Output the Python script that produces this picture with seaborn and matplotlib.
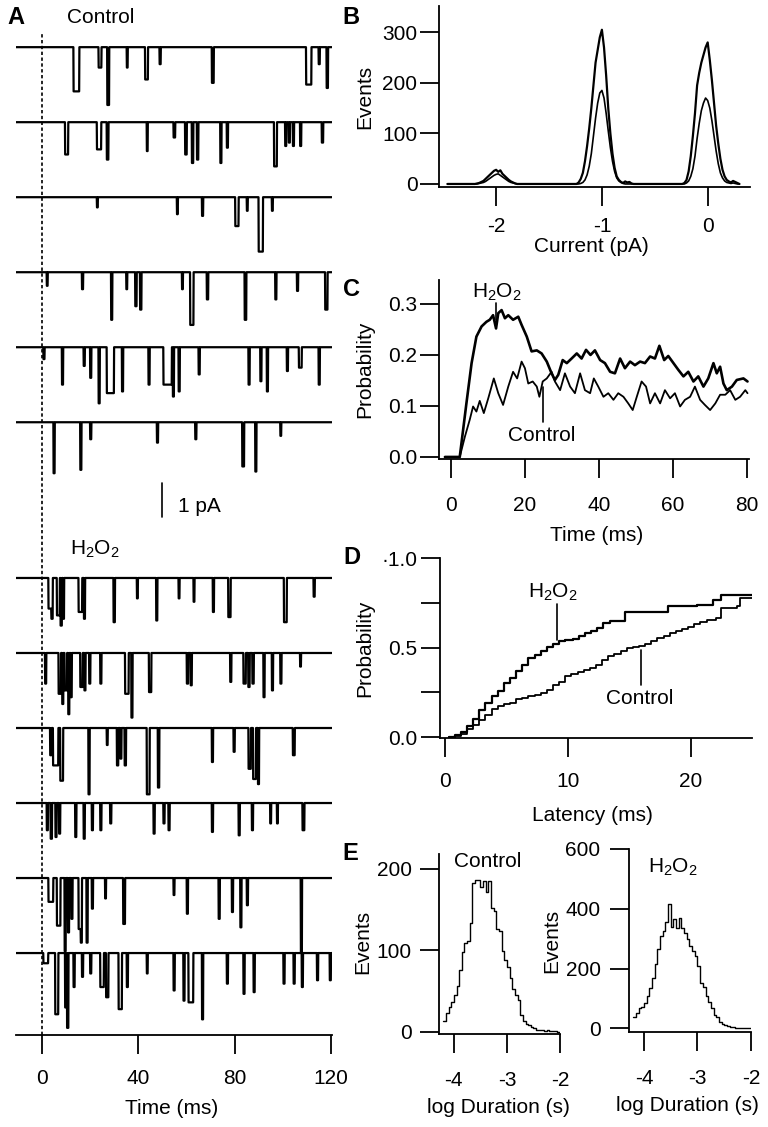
import numpy as np
import pandas as pd
import matplotlib
matplotlib.use("Agg")
import matplotlib.pyplot as plt
import seaborn as sns

sns.set_style("ticks")
plt.rcParams['font.family'] = ['Liberation Sans', 'DejaVu Sans']
plt.rcParams['mathtext.default'] = 'regular'
plt.rcParams['font.size'] = 15
plt.rcParams['axes.unicode_minus'] = False
for key in ['text.color', 'axes.labelcolor', 'xtick.color', 'ytick.color', 'axes.edgecolor']:
    plt.rcParams[key] = 'black'
H2O2 = 'H$_2$O$_2$'

# ---- panel A: single-channel sweeps, events as (start ms, width ms, depth pA)
ctrl_1 = [(13.0, 2.4, 1.3), (23.4, 1.2, 0.6), (27.0, 0.8, 1.7), (35.1, 0.4, 0.6), (42.7, 1.2, 0.95),
          (48.7, 0.5, 0.5), (70.4, 0.8, 1.05), (109.5, 2.2, 1.1), (114.7, 0.5, 0.5), (118.0, 0.6, 1.2)]
ctrl_2 = [(9.5, 1.3, 0.95), (22.7, 1.8, 0.8), (26.8, 0.7, 1.1), (43.4, 0.4, 0.85), (54.5, 0.7, 0.45),
          (59.3, 0.7, 0.95), (62.1, 0.6, 1.2), (64.2, 0.6, 1.1), (73.9, 0.5, 1.2), (76.6, 0.5, 0.75),
          (96.2, 1.2, 1.3), (100.8, 0.5, 0.7), (102.3, 0.5, 0.6), (104.0, 0.5, 0.7), (107.0, 0.5, 0.7),
          (116.0, 0.6, 0.6)]
ctrl_3 = [(22.7, 0.4, 0.3), (55.9, 0.4, 0.5), (66.3, 0.5, 0.55), (80.1, 1.4, 0.85), (84.9, 0.4, 0.4),
          (89.8, 1.8, 1.6), (95.3, 0.4, 0.4)]
ctrl_4 = [(1.9, 0.4, 0.4), (16.5, 0.5, 0.5), (28.6, 0.5, 1.4), (34.9, 0.4, 0.5), (38.6, 0.6, 1.0),
          (40.6, 0.6, 1.1), (58.0, 0.4, 0.5), (61.4, 1.4, 1.55), (68.3, 0.6, 0.8), (84.0, 0.7, 1.4),
          (96.7, 0.5, 0.8), (105.7, 0.5, 0.55), (117.4, 1.0, 1.1)]
ctrl_5 = [(0.5, 0.5, 0.35), (8.2, 0.5, 1.1), (17.2, 0.5, 0.55), (19.9, 0.5, 0.9), (23.4, 0.5, 1.65),
          (26.8, 3.0, 1.35), (33.1, 0.5, 1.3), (44.1, 0.5, 1.1), (50.3, 3.5, 1.1), (54.2, 0.5, 1.45),
          (56.6, 0.5, 1.3), (64.9, 0.5, 0.8), (85.6, 0.5, 1.1), (90.5, 0.5, 1.0), (93.2, 0.5, 1.3),
          (101.5, 0.5, 0.7), (106.5, 1.2, 0.6), (114.7, 0.5, 1.1)]
ctrl_6 = [(4.7, 0.5, 1.5), (15.8, 0.5, 1.4), (19.9, 0.5, 0.5), (47.6, 0.5, 0.6), (63.5, 0.5, 0.5),
          (83.0, 0.8, 1.3), (88.4, 0.5, 1.45), (98.8, 0.4, 0.4)]

h2o2_1 = [(2.6, 1.2, 0.9), (3.8, 0.6, 1.2), (6.1, 1.2, 1.1), (7.6, 0.6, 1.4), (8.6, 0.5, 1.2),
          (15.1, 1.5, 1.0), (17.3, 0.5, 1.2), (29.6, 0.6, 1.3), (39.3, 0.4, 0.6), (47.3, 0.5, 1.25),
          (56.6, 0.4, 0.6), (62.8, 0.4, 0.7), (70.8, 0.5, 1.0), (77.2, 1.0, 1.15), (100.3, 1.2, 1.3),
          (112.6, 0.5, 0.55)]
h2o2_2 = [(1.2, 0.5, 0.9), (6.8, 1.0, 1.2), (8.3, 0.5, 1.5), (9.3, 1.0, 1.1), (10.8, 0.5, 1.8),
          (11.8, 0.5, 1.3), (15.8, 1.0, 1.0), (17.5, 0.5, 1.1), (19.5, 0.5, 0.9), (24.1, 0.5, 0.9),
          (34.4, 1.5, 1.2), (37.0, 0.5, 1.9), (44.3, 1.0, 1.15), (60.0, 0.6, 0.9), (61.6, 0.5, 0.95),
          (78.0, 0.5, 0.85), (83.5, 1.0, 0.9), (85.5, 0.6, 1.0), (87.2, 0.6, 0.9), (91.8, 0.5, 1.3),
          (95.3, 0.5, 1.1), (98.8, 0.5, 0.9), (107.0, 0.4, 0.4)]
h2o2_3 = [(3.3, 0.6, 0.8), (4.5, 2.2, 1.1), (7.5, 1.2, 1.55), (19.2, 0.5, 1.95), (26.8, 0.4, 0.5),
          (31.0, 0.6, 1.1), (32.4, 0.5, 0.9), (34.2, 0.6, 1.1), (43.4, 1.2, 1.95), (48.0, 0.6, 1.75),
          (70.4, 0.5, 1.0), (79.4, 0.5, 0.7), (85.6, 1.0, 1.2), (87.5, 1.2, 1.5), (89.5, 0.5, 1.65),
          (104.0, 0.8, 0.8)]
h2o2_4 = [(1.9, 0.5, 0.8), (3.5, 0.6, 1.05), (5.5, 0.5, 1.0), (7.0, 0.5, 0.9), (13.7, 0.5, 1.0),
          (17.2, 0.5, 1.05), (20.6, 0.5, 0.8), (24.1, 0.5, 0.8), (28.2, 0.5, 0.6), (46.2, 0.5, 0.9),
          (50.3, 0.5, 0.6), (52.4, 0.5, 0.8), (70.4, 0.5, 0.85), (81.5, 0.5, 0.95), (87.0, 0.5, 0.8),
          (94.6, 0.4, 0.6), (97.4, 0.4, 0.6), (108.0, 0.8, 0.8)]
h2o2_5 = [(2.6, 2.0, 0.7), (6.1, 1.5, 1.4), (9.3, 0.5, 2.15), (10.7, 0.5, 1.6), (12.1, 0.5, 1.2),
          (15.1, 1.2, 1.5), (16.0, 0.5, 1.9), (18.4, 0.5, 1.9), (20.6, 0.5, 0.9), (26.1, 0.4, 0.6),
          (33.6, 0.8, 1.35), (54.5, 0.4, 0.5), (60.0, 0.5, 1.05), (73.2, 0.5, 1.2), (78.7, 0.5, 1.0),
          (82.2, 0.5, 1.45), (84.9, 0.5, 0.8), (107.3, 0.5, 2.2)]
h2o2_6 = [(0.5, 2.0, 0.3), (5.4, 1.3, 1.8), (9.5, 0.6, 1.6), (10.3, 0.6, 2.2), (13.0, 0.5, 1.0),
          (16.5, 0.5, 0.7), (19.9, 0.5, 0.6), (24.1, 1.5, 1.0), (26.5, 1.0, 1.3), (31.7, 1.4, 1.65),
          (35.1, 0.5, 1.0), (43.4, 0.4, 0.6), (54.5, 0.5, 1.1), (58.6, 0.5, 1.4), (60.7, 2.0, 1.45),
          (66.3, 0.5, 1.95), (76.6, 0.5, 0.9), (83.5, 0.5, 1.2), (87.7, 0.5, 1.15), (100.1, 0.5, 0.9),
          (104.3, 0.5, 0.9), (107.7, 0.5, 1.0), (114.0, 0.5, 0.8), (119.3, 0.5, 0.8)]

# ---- panel B: amplitude histograms (pA, events), three peak regions
b_x_m2 = np.round(np.arange(-2.20, -1.79, 0.02), 2)
b_x_m1 = np.round(np.arange(-1.24, -0.69, 0.02), 2)
b_x_0 = np.round(np.arange(-0.24, 0.31, 0.02), 2)
b_tall_m2 = [0, 1, 2, 4, 6, 10, 14, 18, 22, 26, 28, 24, 27, 20, 16, 12, 8, 5, 3, 1, 0]
b_small_m2 = [0, 0, 1, 2, 3, 5, 8, 11, 14, 17, 19, 20, 17, 14, 11, 8, 5, 3, 2, 1, 0]
b_tall_m1 = [0, 3, 10, 22, 45, 75, 110, 150, 195, 240, 265, 290, 305, 270, 215, 150, 100, 60, 32, 15,
             8, 4, 2, 5, 3, 4, 1, 0]
b_small_m1 = [0, 0, 1, 3, 8, 18, 35, 60, 95, 130, 160, 180, 185, 170, 140, 105, 72, 45, 25, 12,
              6, 3, 1, 0, 0, 0, 0, 0]
b_tall_0 = [0, 2, 8, 25, 55, 95, 140, 195, 220, 240, 255, 270, 280, 245, 205, 160, 115, 80, 50, 28,
            15, 8, 5, 3, 6, 4, 2, 0]
b_small_0 = [0, 0, 2, 6, 15, 30, 55, 90, 120, 145, 160, 170, 165, 150, 125, 95, 65, 40, 22, 12,
             6, 3, 2, 1, 2, 1, 0, 0]

# ---- panel C: open probability vs time
c_time_h2o2 = [-1.6, 2.4, 4.2, 5.6, 6.9, 8.3, 9.6, 10.5, 11.4, 12.2, 12.8, 13.7, 14.6, 15.5, 16.8, 18.2,
               19.1, 20.5, 21.8, 23.2, 24.5, 25.9, 27.2, 28.1, 29.0, 30.2, 31.3, 32.6, 34.0, 35.3, 36.5,
               37.7, 38.9, 40.3, 41.6, 43.0, 44.3, 45.7, 47.0, 48.4, 49.7, 51.1, 52.4, 53.8, 55.1, 56.3,
               57.6, 58.7, 60.1, 61.4, 62.8, 64.1, 65.5, 66.8, 68.2, 69.5, 70.9, 71.8, 72.7, 73.6, 74.5,
               75.9, 77.2, 79.0, 80.1]
c_prob_h2o2 = [0, 0, .105, .184, .236, .256, .265, .269, .278, .252, .282, .288, .272, .278, .269, .275,
               .259, .236, .207, .209, .203, .187, .164, .151, .161, .190, .184, .193, .203, .193, .210,
               .200, .209, .190, .184, .167, .164, .193, .174, .187, .180, .187, .184, .197, .193, .218,
               .190, .198, .184, .171, .158, .167, .148, .158, .138, .154, .184, .164, .177, .144, .131,
               .138, .151, .154, .148]
c_time_ctrl = [-1.6, 2.4, 3.8, 5.1, 6.0, 6.9, 7.8, 8.9, 10.1, 11.6, 12.8, 14.1, 15.5, 16.8, 17.9, 19.1,
               20.0, 20.9, 22.1, 23.2, 23.9, 24.8, 25.9, 27.2, 28.1, 29.5, 30.8, 32.2, 33.5, 34.9, 36.2,
               37.6, 38.6, 39.8, 41.2, 42.5, 43.9, 45.2, 46.6, 47.9, 49.1, 50.2, 51.5, 52.7, 53.8, 55.1,
               56.5, 57.8, 59.2, 60.5, 61.9, 63.2, 64.6, 65.9, 67.3, 68.6, 70.0, 71.4, 72.7, 74.1, 75.4,
               76.8, 78.1, 79.5, 80.1]
c_prob_ctrl = [0, 0, .040, .073, .099, .089, .110, .086, .115, .154, .125, .102, .138, .167, .154, .187,
               .174, .144, .148, .138, .118, .148, .154, .167, .148, .131, .164, .138, .125, .164, .131,
               .125, .154, .138, .118, .125, .112, .125, .118, .105, .092, .118, .148, .138, .105, .125,
               .105, .131, .115, .125, .099, .112, .118, .138, .112, .102, .092, .105, .122, .122, .131,
               .112, .118, .131, .125]

# ---- panel D: first-latency cumulative distributions
d_lat_h2o2 = [0.3, 0.8, 1.3, 1.8, 2.3, 2.8, 3.3, 3.8, 4.3, 4.8, 5.3, 5.8, 6.3, 6.8, 7.3, 7.8, 8.3, 8.8,
              9.3, 9.8, 10.4, 10.9, 11.4, 11.9, 12.4, 12.9, 13.4, 14.7, 18.2, 20.5, 21.8, 22.5, 25.0]
d_prob_h2o2 = [0, 0.01, 0.03, 0.06, 0.10, 0.15, 0.19, 0.23, 0.26, 0.30, 0.33, 0.37, 0.40, 0.44, 0.46,
               0.48, 0.505, 0.52, 0.535, 0.54, 0.55, 0.565, 0.58, 0.595, 0.61, 0.635, 0.65, 0.70, 0.73,
               0.74, 0.765, 0.795, 0.795]
d_lat_ctrl = [0.3, 0.8, 1.3, 1.8, 2.3, 2.8, 3.3, 3.8, 4.3, 4.8, 5.3, 5.8, 6.3, 6.8, 7.3, 7.8, 8.3, 8.8,
              9.3, 9.8, 10.3, 10.8, 11.3, 11.8, 12.3, 12.8, 13.3, 13.8, 14.3, 14.8, 15.3, 15.8, 16.3,
              16.8, 17.3, 17.8, 18.3, 18.8, 19.3, 19.8, 20.3, 20.8, 21.3, 22.1, 22.5, 23.8, 24.0, 25.0]
d_prob_ctrl = [0, .005, .02, .045, .07, .095, .125, .155, .175, .185, .19, .21, .22, .23, .235, .245,
               .265, .29, .31, .34, .355, .365, .375, .385, .40, .43, .455, .465, .48, .495, .505, .51,
               .52, .535, .555, .565, .58, .595, .605, .615, .63, .645, .655, .665, .72, .73, .775, .775]

# ---- panel E: dwell-time histograms, bins of 0.05 log units from -4.20
e_counts_ctrl = [14, 23, 31, 37, 45, 56, 76, 98, 109, 111, 134, 183, 186, 186, 178, 185, 172, 185, 152,
                 148, 126, 124, 99, 88, 80, 66, 53, 45, 39, 21, 14, 10, 8, 6, 5, 3, 2, 2, 1, 2, 1, 1, 1, 0]
e_counts_h2o2 = [39, 51, 67, 73, 84, 107, 135, 169, 214, 264, 309, 326, 356, 416, 340, 365, 337, 370,
                 335, 320, 298, 275, 259, 242, 208, 152, 140, 107, 90, 67, 45, 37, 22, 15, 11, 8, 5, 4,
                 3, 2, 2, 1, 1, 1]

W, H = 768, 1127
fig = plt.figure(figsize=(W / 100, H / 100), dpi=100)


def add_ax(x0, y0, x1, y1):
    return fig.add_axes([x0 / W, 1 - y1 / H, (x1 - x0) / W, (y1 - y0) / H])


def style(ax, xpad, ypad=2):
    sns.despine(ax=ax)
    for s in ax.spines.values():
        s.set_linewidth(1.3)
    ax.tick_params(direction='out', length=13.5, width=1.3, labelsize=15)
    ax.tick_params(axis='x', pad=xpad)
    ax.tick_params(axis='y', pad=ypad)


# ---------------- A
axA = add_ax(16, 5, 332, 1035)
t_grid = np.arange(-10.8, 120.3, 0.1)


def build_trace(events):
    y = np.zeros_like(t_grid)
    for start, width, depth in events:
        m = (t_grid >= start) & (t_grid <= start + width)
        y[m] = np.minimum(y[m], -depth)
    return y


for i, ev in enumerate([ctrl_1, ctrl_2, ctrl_3, ctrl_4, ctrl_5, ctrl_6]):
    sns.lineplot(x=t_grid, y=build_trace(ev) - 1.24 - 2.206 * i, ax=axA, color='k', lw=1.6,
                 estimator=None)
for i, ev in enumerate([h2o2_1, h2o2_2, h2o2_3, h2o2_4, h2o2_5, h2o2_6]):
    sns.lineplot(x=t_grid, y=build_trace(ev) - 16.85 - 2.206 * i, ax=axA, color='k', lw=1.6,
                 estimator=None)
axA.set_xlim(-10.8, 120.3)
axA.set_ylim(-30.29, 0)
axA.plot([0, 0], [-30.29, -0.82], color='k', lw=1.2, ls=(0, (2, 1.5)))
axA.plot([49.8, 49.8], [-14.06, -15.06], color='k', lw=1.2)
axA.text(56.4, -14.76, '1 pA', va='center', ha='left', fontsize=15)
axA.text(10.4, -0.38, 'Control', va='center', ha='left', fontsize=15)
axA.text(11.6, -16.0, H2O2, va='center', ha='left', fontsize=15)
style(axA, 11)
sns.despine(ax=axA, left=True)
axA.set_yticks([])
axA.set_xticks([0, 40, 80, 120])
axA.set_xlabel('Time (ms)', va='center')
axA.xaxis.set_label_coords(0.494, -0.0709)

# ---------------- B
axB = add_ax(439, 6, 750, 187)
bx = np.concatenate([[-2.46], b_x_m2, b_x_m1, b_x_0])
sns.lineplot(x=bx, y=np.concatenate([[0], b_small_m2, b_small_m1, b_small_0]), ax=axB,
             color='k', lw=1.2, estimator=None)
sns.lineplot(x=bx, y=np.concatenate([[0], b_tall_m2, b_tall_m1, b_tall_0]), ax=axB,
             color='k', lw=1.6, estimator=None)
axB.set_xlim(-2.54, 0.40)
axB.set_ylim(-6, 352)
axB.set_xticks([-2, -1, 0])
axB.set_yticks([0, 100, 200, 300])
style(axB, 8)
axB.set_xlabel('Current (pA)', va='center')
axB.set_ylabel('Events', va='center')
axB.xaxis.set_label_coords(0.489, -0.331)
axB.yaxis.set_label_coords(-0.238, 0.5)

# ---------------- C
axC = add_ax(439, 280, 749, 459)
sns.lineplot(x=c_time_ctrl, y=c_prob_ctrl, ax=axC, color='k', lw=1.3, estimator=None)
sns.lineplot(x=c_time_h2o2, y=c_prob_h2o2, ax=axC, color='k', lw=1.9, estimator=None)
axC.set_xlim(-3.2, 80.5)
axC.set_ylim(-0.004, 0.347)
axC.set_xticks([0, 20, 40, 60, 80])
axC.set_yticks([0, 0.1, 0.2, 0.3])
axC.set_yticklabels(['0.0', '0.1', '0.2', '0.3'])
axC.plot([12.3, 12.3], [0.301, 0.269], color='k', lw=1.2)
axC.text(12.4, 0.322, H2O2, ha='center', va='center', fontsize=15)
axC.plot([25.0, 25.0], [0.138, 0.069], color='k', lw=1.2)
axC.text(24.5, 0.043, 'Control', ha='center', va='center', fontsize=15)
style(axC, 13)
axC.set_xlabel('Time (ms)', va='center')
axC.set_ylabel('Probability', va='center')
axC.xaxis.set_label_coords(0.51, -0.425)
axC.yaxis.set_label_coords(-0.239, 0.5)

# ---------------- D
axD = add_ax(440, 558, 752, 738)
sns.lineplot(x=d_lat_ctrl, y=d_prob_ctrl, ax=axD, color='k', lw=1.3, estimator=None,
             drawstyle='steps-post')
sns.lineplot(x=d_lat_h2o2, y=d_prob_h2o2, ax=axD, color='k', lw=1.6, estimator=None,
             drawstyle='steps-post')
axD.set_xlim(-0.4, 25)
axD.set_ylim(-0.005, 1.0)
axD.set_xticks([0, 10, 20])
axD.set_yticks([0, 0.25, 0.5, 0.75, 1.0])
axD.set_yticklabels(['0.0', '', '0.5', '', '\u00b71.0'])
axD.plot([9.13, 9.13], [0.743, 0.542], color='k', lw=1.2)
axD.text(8.8, 0.81, H2O2, ha='center', va='center', fontsize=15)
axD.plot([16.0, 16.0], [0.486, 0.29], color='k', lw=1.2)
axD.text(15.85, 0.218, 'Control', ha='center', va='center', fontsize=15)
style(axD, 11, 3)
axD.set_xlabel('Latency (ms)', va='center')
axD.set_ylabel('Probability', va='center')
axD.xaxis.set_label_coords(0.49, -0.428)
axD.yaxis.set_label_coords(-0.24, 0.5)

# ---------------- E
e_edges = [round(-4.20 + 0.05 * k, 2) for k in range(45)]
e_centers = [e + 0.025 for e in e_edges[:-1]]
e_ctrl = pd.DataFrame({'logdur': e_centers, 'n': e_counts_ctrl})
e_h2o2 = pd.DataFrame({'logdur': e_centers, 'n': e_counts_h2o2})

axE1 = add_ax(439, 854, 560, 1034)
sns.histplot(data=e_ctrl, x='logdur', weights='n', bins=e_edges, element='step', fill=False,
             color='k', lw=1.0, ax=axE1)
axE1.set_xlim(-4.28, -2.0)
axE1.set_ylim(-2.5, 218)
axE1.set_xticks([-4, -3, -2])
axE1.set_yticks([0, 100, 200])
axE1.text(0.405, 0.956, 'Control', transform=axE1.transAxes, ha='center', va='center', fontsize=15)
style(axE1, 13, 6)
axE1.set_xlabel('log Duration (s)', va='center')
axE1.set_ylabel('Events', va='center')
axE1.xaxis.set_label_coords(0.49, -0.411)
axE1.yaxis.set_label_coords(-0.628, 0.51)

axE2 = add_ax(629, 849, 751, 1032)
sns.histplot(data=e_h2o2, x='logdur', weights='n', bins=e_edges, element='step', fill=False,
             color='k', lw=1.0, ax=axE2)
axE2.set_xlim(-4.28, -2.0)
axE2.set_ylim(-12, 600)
axE2.set_xticks([-4, -3, -2])
axE2.set_yticks([0, 200, 400, 600])
axE2.text(0.36, 0.90, H2O2, transform=axE2.transAxes, ha='center', va='center', fontsize=15)
style(axE2, 13, 7)
axE2.set_xlabel('log Duration (s)', va='center')
axE2.set_ylabel('Events', va='center')
axE2.xaxis.set_label_coords(0.48, -0.40)
axE2.yaxis.set_label_coords(-0.631, 0.50)

# panel letters
for letter, x, y in [('A', 7, 18), ('B', 342, 17), ('C', 343, 289), ('D', 343, 558), ('E', 342, 854)]:
    fig.text(x / W, 1 - y / H, letter, fontsize=17, fontweight='bold', va='center', ha='left')

fig.savefig('out.png', dpi=100)
